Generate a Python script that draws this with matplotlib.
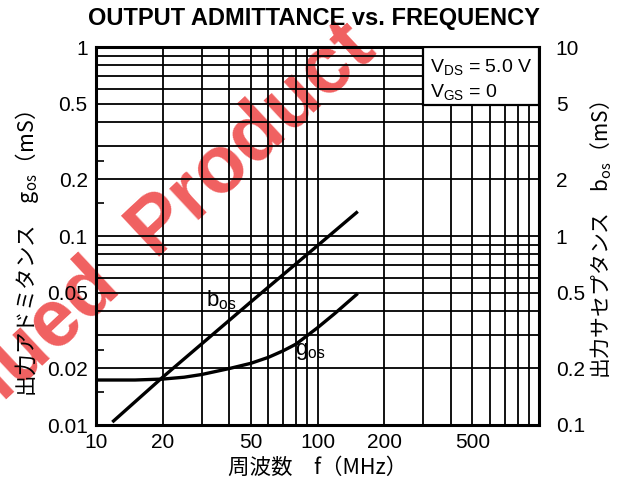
import numpy as np
import matplotlib.pyplot as plt
from matplotlib.patches import Rectangle

plt.rcParams['font.family'] = ['Liberation Sans', 'Noto Sans CJK JP']
CJK = ['Noto Sans CJK JP', 'Liberation Sans']

# (MHz, mS)
f_gos = [10, 15, 20, 25, 30, 40, 50, 60, 70, 80, 100, 120, 150]
gos = [0.0173, 0.0173, 0.0175, 0.0179, 0.0185, 0.0199, 0.0212, 0.0228, 0.0247, 0.0268, 0.0327, 0.039, 0.049]
f_bos = [12, 20, 50, 100, 150]
bos = [0.105, 0.179, 0.448, 0.889, 1.33]   # right axis, mS

xgrid = [20, 30, 40, 50, 60, 70, 80, 90, 100, 200, 300, 400, 500, 600, 700, 800, 900]
xlabels = {10: '10', 20: '20', 50: '50', 100: '100', 200: '200', 500: '500'}
ygrid = [0.01, 0.02, 0.03, 0.04, 0.05, 0.06, 0.07, 0.08, 0.09,
         0.1, 0.2, 0.3, 0.4, 0.5, 0.6, 0.7, 0.8, 0.9, 1]
ylabels = {0.01: '0.01', 0.02: '0.02', 0.05: '0.05', 0.1: '0.1', 0.2: '0.2', 0.5: '0.5', 1: '1'}
yticks_small = [0.015, 0.025, 0.15, 0.25]
y2ticks = [0.1, 0.2, 0.5, 1, 2, 5, 10]
y2labels = ['0.1', '0.2', '0.5', '1', '2', '5', '10']

fig = plt.figure(figsize=(6.17, 4.86), dpi=100)
ax = fig.add_axes([96/617, 1-425/486, 443/617, 378/486])
ax.set_facecolor('none')
ax.set_xscale('log')
ax.set_yscale('log')
ax.set_xlim(10, 1000)
ax.set_ylim(0.01, 1)

ax.set_xticks([10] + xgrid, [xlabels.get(v, '') for v in [10] + xgrid])
ax.set_yticks(ygrid, [ylabels.get(v, '') for v in ygrid])
ax.set_xticks([], minor=True)
ax.set_yticks(yticks_small, minor=True)
ax.tick_params(which='major', length=0, labelsize=15, pad=6)
ax.tick_params(axis='y', which='minor', direction='in', length=6, width=1.2, labelleft=False)
ax.grid(which='major', color='black', lw=1.3)
for s in ax.spines.values():
    s.set_linewidth(2.2)

ax.plot(f_gos, gos, color='black', lw=2.4)

ax2 = ax.twinx()
ax2.set_yscale('log')
ax2.set_ylim(0.1, 10)
ax2.set_yticks(y2ticks, y2labels)
ax2.set_yticks([], minor=True)
ax2.tick_params(length=0, labelsize=15, pad=12)
ax2.plot(f_bos, bos, color='black', lw=2.4)
for s in ax2.spines.values():
    s.set_visible(False)

ax.text(31.5, 0.0455, 'b$_{\\mathregular{os}}$', fontsize=16, va='center', ha='left')
ax.text(79, 0.0245, 'g$_{\\mathregular{os}}$', fontsize=16, va='center', ha='left')

# condition box in the upper right corner
ax2.add_patch(Rectangle((0.738, 0.847), 0.262, 0.153, transform=ax.transAxes,
                        fc='white', ec='black', lw=1.6, zorder=5))
ax2.text(0.755, 0.944, 'V$_{\\mathregular{DS}}$ = 5.0 V', transform=ax.transAxes,
         ha='left', va='center', fontsize=14, zorder=6)
ax2.text(0.755, 0.878, 'V$_{\\mathregular{GS}}$ = 0', transform=ax.transAxes,
         ha='left', va='center', fontsize=14, zorder=6)

fig.text(314/617, 1-18/486, 'OUTPUT ADMITTANCE vs. FREQUENCY', ha='center', va='center',
         fontsize=17, fontweight='bold')
fig.text(318/617, 1-468/486, '周波数　f（MHz）', ha='center', va='center', fontsize=15.5, family=CJK)
fig.text(27/617, 1-254/486, '出力アドミタンス　g$_{\\mathregular{os}}$（mS）', rotation=90,
         ha='center', va='center', fontsize=15.5, family=CJK)
fig.text(601/617, 1-240/486, '出力サセプタンス　b$_{\\mathregular{os}}$（mS）', rotation=90,
         ha='center', va='center', fontsize=15, family=CJK)

# watermark, under the grid
fig.text(378/617, 1-53/486, 'Discontinued  Product', rotation=43, rotation_mode='anchor',
         ha='right', va='baseline', fontsize=58, fontweight='bold', color='#ee4444',
         alpha=0.85, zorder=-1)

fig.savefig('out.png', dpi=100)
